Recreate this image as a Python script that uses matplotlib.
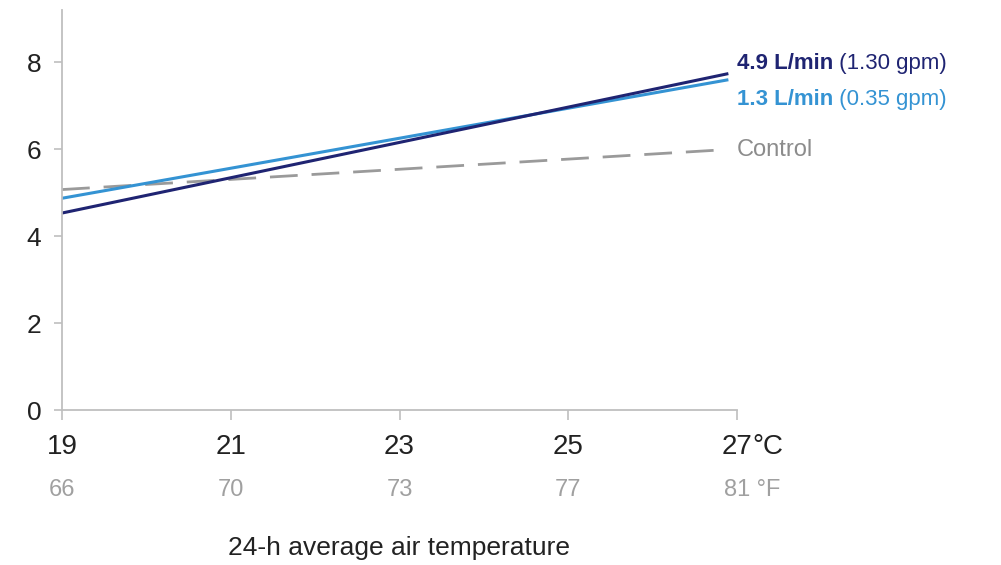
import matplotlib.pyplot as plt
from matplotlib.transforms import blended_transform_factory

plt.rcParams['font.family'] = ['Liberation Sans Narrow', 'Liberation Sans', 'DejaVu Sans']

# 24-h average air temperature (deg C) and fitted response
temp_c = [19, 26.88]
flow_49 = [4.53, 7.73]    # 4.9 L/min
flow_13 = [4.87, 7.59]    # 1.3 L/min
control = [5.07, 5.99]

tick_c = [19, 21, 23, 25, 27]
tick_f = ['66', '70', '73', '77', '81']
yticks = [0, 2, 4, 6, 8]

navy = '#1f2472'
lightblue = '#3493d3'
grey = '#9a9a9a'

fig = plt.figure(figsize=(10.01, 5.65), dpi=100)
ax = fig.add_axes([62 / 1001, 155 / 565, 675 / 1001, 400 / 565])

ax.plot(temp_c, control, color=grey, lw=2.0, dashes=(10, 5), solid_capstyle='butt')
ax.plot(temp_c, flow_13, color=lightblue, lw=2.2)
ax.plot(temp_c, flow_49, color=navy, lw=2.2)

ax.set_xlim(19, 27)
ax.set_ylim(0, 9.2)
ax.set_yticks(yticks)
ax.set_xticks(tick_c)
ax.set_xticklabels([])
ax.tick_params(axis='y', labelsize=19, length=6, width=1.2, color='#bfbfbf',
               pad=9, labelcolor='#222222')
ax.tick_params(axis='x', length=7, width=1.2, color='#bfbfbf', direction='out')
for s in ['top', 'right']:
    ax.spines[s].set_visible(False)
for s in ['left', 'bottom']:
    ax.spines[s].set_color('#bfbfbf')
    ax.spines[s].set_linewidth(1.3)

tr = blended_transform_factory(ax.transData, ax.transAxes)
for c, f in zip(tick_c, tick_f):
    tc = ax.text(c, -0.093, str(c), transform=tr, ha='center', va='center',
                 fontsize=20, color='#222222')
    tf = ax.text(c, -0.2, f, transform=tr, ha='center', va='center',
                 fontsize=17, color='#a0a0a0')
ax.annotate('°C', xy=(1, 0.5), xycoords=tc, va='center', ha='left',
            fontsize=20, color='#222222')
ax.annotate(' °F', xy=(1, 0.5), xycoords=tf, va='center', ha='left',
            fontsize=17, color='#a0a0a0')

ax.text(23, -0.345, '24-h average air temperature', transform=tr,
        ha='center', va='center', fontsize=19, color='#222222')

# line labels
t1 = ax.text(27.0, 7.98, '4.9 L/min', fontsize=16, fontweight='bold',
             color=navy, va='center', ha='left', clip_on=False)
ax.annotate(' (1.30 gpm)', xy=(1, 0.5), xycoords=t1, va='center', ha='left',
            fontsize=16, color=navy)
t2 = ax.text(27.0, 7.15, '1.3 L/min', fontsize=16, fontweight='bold',
             color=lightblue, va='center', ha='left', clip_on=False)
ax.annotate(' (0.35 gpm)', xy=(1, 0.5), xycoords=t2, va='center', ha='left',
            fontsize=16, color=lightblue)
ax.text(27.0, 5.97, 'Control', fontsize=17, color='#8c8c8c',
        va='center', ha='left', clip_on=False)

fig.savefig('out.png', dpi=100)
